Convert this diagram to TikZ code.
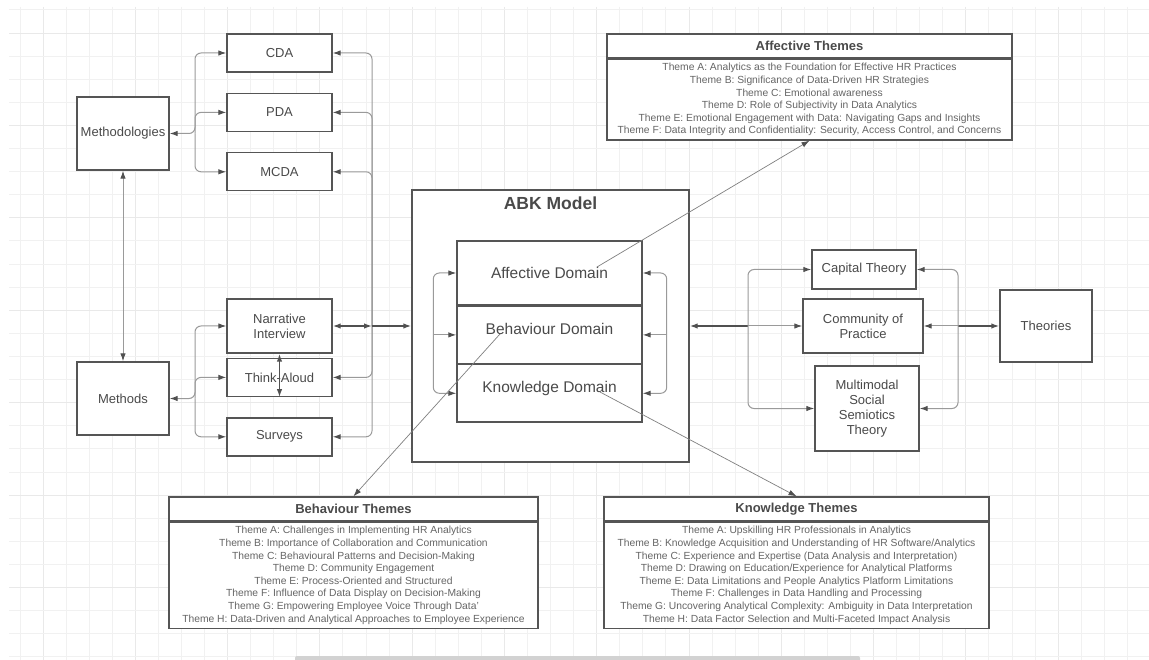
\documentclass[tikz,border=0pt]{standalone}
\usepackage{fontspec}
\setmainfont{Liberation Sans}
\usetikzlibrary{positioning,arrows.meta,calc}
\definecolor{ink}{HTML}{4A4A4A}
\definecolor{boxline}{HTML}{555555}
\definecolor{wire}{HTML}{9A9A9A}
\definecolor{darkwire}{HTML}{505050}
\definecolor{gridminor}{HTML}{F1F1F1}
\definecolor{gridmajor}{HTML}{E9E9E9}
\tikzset{
	box/.style={draw=boxline, line width=1.4pt, fill=white, text=ink, align=center, inner sep=2pt, font=\fontsize{13}{15}\selectfont},
	dombox/.style={box, minimum width=185pt, font=\fontsize{15.5}{18}\selectfont},
	thhead/.style={box, minimum height=24pt, inner sep=0pt, font=\fontsize{13}{15}\bfseries\selectfont},
	thbody/.style={box, inner xsep=0pt, inner ysep=4pt, text=ink!85, font=\fontsize{10.3}{12.6}\selectfont},
	tip/.style={-{Latex[length=8pt,width=5.5pt,color=darkwire]}},
	both/.style={{Latex[length=8pt,width=5.5pt,color=darkwire]}-{Latex[length=8pt,width=5.5pt,color=darkwire]}},
	wirec/.style={draw=wire, line width=1pt, rounded corners=6pt, tip},
	buswire/.style={draw=darkwire, line width=1.4pt, tip},
	pointer/.style={draw=gray, line width=0.7pt, tip},
}

\begin{document}
\begin{tikzpicture}[x=1pt, y=-1pt]
	\useasboundingbox (0,0) rectangle (1149,660);
	\fill[white] (0,0) rectangle (1149,660);
	\foreach \i in {0,...,48} {
		\pgfmathsetmacro{\gx}{20+23.07*\i}
		\pgfmathtruncatemacro{\gm}{mod(\i,4)}
		\ifnum\gm=1 \draw[gridmajor, line width=1pt] (\gx,7) -- (\gx,660);
		\else \draw[gridminor, line width=1pt] (\gx,7) -- (\gx,660); \fi
	}
	\foreach \j in {0,...,28} {
		\pgfmathsetmacro{\gy}{10+23.1*\j}
		\pgfmathtruncatemacro{\gm}{mod(\j,4)}
		\ifnum\gm=1 \draw[gridmajor, line width=1pt] (9,\gy) -- (1149,\gy);
		\else \draw[gridminor, line width=1pt] (9,\gy) -- (1149,\gy); \fi
	}
	\fill[gray!35, rounded corners=2pt] (295,656) rectangle (860,664);

	\node[box, minimum width=105pt, minimum height=38pt] (cda) at (279.5,53) {CDA};
	\node[box, minimum width=105pt, minimum height=38pt, below=20pt of cda] (pda) {PDA};
	\node[box, minimum width=105pt, minimum height=38pt, below=20pt of pda] (mcda) {MCDA};
	\node[box, minimum width=92pt, minimum height=73pt] (meth) at (123,133.5) {Methodologies};
	\node[box, minimum width=92pt, minimum height=73pt] (methods) at (123,398.5) {Methods};
	\node[box, minimum width=105pt, minimum height=54pt] (ni) at (279.5,326) {Narrative\\Interview};
	\node[box, minimum width=105pt, minimum height=38pt, below=4pt of ni] (ta) {Think-Aloud};
	\node[box, minimum width=105pt, minimum height=38pt, below=20pt of ta] (sv) {Surveys};

	\node[box, minimum width=277pt, minimum height=272pt] (abk) at (550.5,326) {};
	\node[text=ink, font=\fontsize{17.5}{20}\bfseries\selectfont] (abktitle) at ($(abk.north)+(0,14)$) {ABK Model};
	\node[dombox, minimum height=64pt] (aff) at (549.5,273) {Affective Domain};
	\node[dombox, minimum height=57pt, text depth=13pt, below=0pt of aff] (beh) {Behaviour Domain};
	\node[dombox, minimum height=57pt, text depth=13pt, below=0pt of beh] (know) {Knowledge Domain};

	\node[box, minimum width=104pt, minimum height=39pt] (cap) at (864,269.5) {Capital Theory};
	\node[box, minimum width=120pt, minimum height=54pt] (cop) at (863,326) {Community of\\Practice};
	\node[box, minimum width=104pt, minimum height=85pt] (mm) at (867,408.5) {Multimodal\\Social\\Semiotics\\Theory};
	\node[box, minimum width=92pt, minimum height=72pt] (theo) at (1046,326) {Theories};

	\node[thhead, minimum width=405pt] (afft) at (809.5,46) {Affective Themes};
	\node[thbody, minimum width=405pt, below=0pt of afft] (afftb) {Theme A: Analytics as the Foundation for Effective HR Practices\\
		Theme B: Significance of Data-Driven HR Strategies\\
		Theme C: Emotional awareness\\
		Theme D: Role of Subjectivity in Data Analytics\\
		Theme E: Emotional Engagement with Data: Navigating Gaps and Insights\\
		Theme F: Data Integrity and Confidentiality: Security, Access Control, and Concerns};
	\node[thhead, minimum width=369pt] (beht) at (353.5,509) {Behaviour Themes};
	\node[thbody, minimum width=369pt, below=0pt of beht] (behtb) {Theme A: Challenges in Implementing HR Analytics\\
		Theme B: Importance of Collaboration and Communication\\
		Theme C: Behavioural Patterns and Decision-Making\\
		Theme D: Community Engagement\\
		Theme E: Process-Oriented and Structured\\
		Theme F: Influence of Data Display on Decision-Making\\
		Theme G: Empowering Employee Voice Through Data'\\
		Theme H: Data-Driven and Analytical Approaches to Employee Experience};
	\node[thhead, minimum width=385pt] (knowt) at (796.5,509) {Knowledge Themes};
	\node[thbody, minimum width=385pt, below=0pt of knowt] (knowtb) {Theme A: Upskilling HR Professionals in Analytics\\
		Theme B: Knowledge Acquisition and Understanding of HR Software/Analytics\\
		Theme C: Experience and Expertise (Data Analysis and Interpretation)\\
		Theme D: Drawing on Education/Experience for Analytical Platforms\\
		Theme E: Data Limitations and People Analytics Platform Limitations\\
		Theme F: Challenges in Data Handling and Processing\\
		Theme G: Uncovering Analytical Complexity: Ambiguity in Data Interpretation\\
		Theme H: Data Factor Selection and Multi-Faceted Impact Analysis};

	\coordinate (mb) at (195,133.5);
	\coordinate (sb) at (195,398.5);
	\coordinate (bus) at (372,326);
	\coordinate (rb) at (748,326);
	\coordinate (tb) at (958,326);
	\coordinate (ll) at ($(beh.west)+(-23,0)$);
	\coordinate (rl) at ($(beh.east)+(24,0)$);
	\coordinate (affsrc) at (597,267);
	\coordinate (behsrc) at (500,334);
	\coordinate (knowsrc) at (600,392);

	\draw[wirec, both] (meth.east) -- (mb) |- (cda.west);
	\draw[wirec] (mb) |- (pda.west);
	\draw[wirec] (mb) |- (mcda.west);
	\draw[wirec, both] (methods.east) -- (sb) |- (ni.west);
	\draw[wirec] (sb) |- (ta.west);
	\draw[wirec] (sb) |- (sv.west);
	\draw[wirec, both] (meth.south) -- (methods.north);
	\draw[buswire, both] (ni.south) -- (ta.south);

	\draw[wirec] (bus) |- (cda.east);
	\draw[wirec] (bus) |- (pda.east);
	\draw[wirec] (bus) |- (mcda.east);
	\draw[wirec] (bus) |- (ta.east);
	\draw[wirec] (bus) |- (sv.east);
	\draw[buswire, both] (ni.east) -- (bus);
	\draw[buswire] (bus) -- (abk.west);

	\draw[wirec] (ll) |- (aff.west);
	\draw[wirec] (ll) -- (beh.west);
	\draw[wirec] (ll) |- (know.west);
	\draw[wirec] (rl) |- (aff.east);
	\draw[wirec] (rl) -- (beh.east);
	\draw[wirec] (rl) |- (know.east);

	\draw[buswire] (rb) -- (abk.east);
	\draw[wirec] (rb) |- (cap.west);
	\draw[wirec] (rb) -- (cop.west);
	\draw[wirec] (rb) |- (mm.west);
	\draw[buswire] (tb) -- (theo.west);
	\draw[wirec] (tb) |- (cap.east);
	\draw[wirec] (tb) -- (cop.east);
	\draw[wirec] (tb) |- (mm.east);

	\draw[pointer] (affsrc) -- (afftb.south);
	\draw[pointer] (behsrc) -- (beht.north);
	\draw[pointer] (knowsrc) -- (knowt.north);
\end{tikzpicture}
\end{document}
